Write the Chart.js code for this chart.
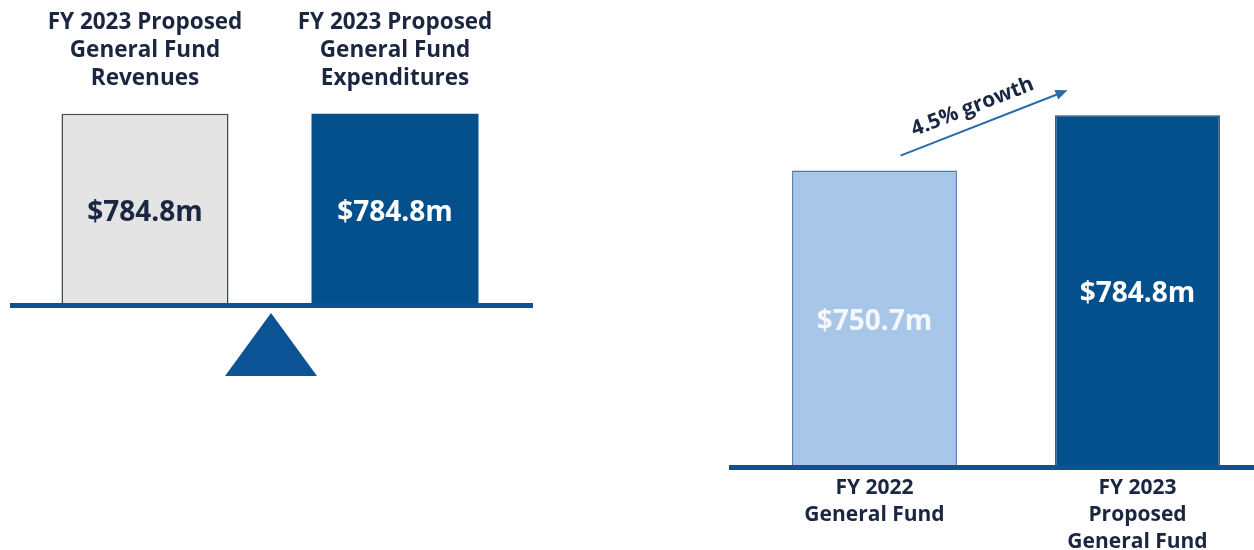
<!DOCTYPE html>
<html>
<head>
<meta charset="utf-8">
<script src="https://cdn.jsdelivr.net/npm/chart.js@4.4.0/dist/chart.umd.min.js"></script>
<style>
html, body { margin: 0; padding: 0; width: 1254px; height: 550px; overflow: hidden; background: #fff; }
#balanceBox { position: absolute; left: 0; top: 0; width: 545px; height: 400px; }
#growthBox { position: absolute; left: 729px; top: 0; width: 545px; height: 571px; }
</style>
</head>
<body>
<div id="balanceBox"><canvas id="balanceChart"></canvas></div>
<div id="growthBox"><canvas id="growthChart"></canvas></div>
<script>
// Data
const balanceLabels = [
    ['FY 2023 Proposed', 'General Fund', 'Revenues'],
    ['FY 2023 Proposed', 'General Fund', 'Expenditures']
];
const balanceValues = [784.8, 784.8];

const growthLabels = [
    ['FY 2022', 'General Fund'],
    ['FY 2023', 'Proposed', 'General Fund']
];
const growthValues = [750.7, 784.8];
const growthText = '4.5% growth';

const FONT = '"Open Sans", "DejaVu Sans", sans-serif';
const NAVY = '#1b2640';
const BLUE = '#03508c';
const LINE_BLUE = '#0b5394';

// Format bedrag
function formatMoney(v) {
    return '$' + v.toFixed(1) + 'm';
}

// Waarde labels in het midden van het zichtbare deel van de balken
function drawValueLabels(chart, values, colors, shift) {
    const ctx = chart.ctx;
    const meta = chart.getDatasetMeta(0);
    const bottom = chart.chartArea.bottom;
    ctx.save();
    ctx.font = 'bold 28px ' + FONT;
    ctx.textAlign = 'center';
    ctx.textBaseline = 'middle';
    meta.data.forEach((bar, i) => {
        const base = Math.min(bar.base, bottom);
        ctx.fillStyle = colors[i];
        ctx.fillText(formatMoney(values[i]), bar.x, (bar.y + base) / 2 + shift);
    });
    ctx.restore();
}

// Wip met driehoek
const seesaw = {
    id: 'seesaw',
    afterDatasetsDraw(chart) {
        const ctx = chart.ctx;
        const area = chart.chartArea;
        const mid = (area.left + area.right) / 2;
        ctx.save();
        ctx.fillStyle = LINE_BLUE;
        ctx.fillRect(10, area.bottom, 523, 5);
        ctx.beginPath();
        ctx.moveTo(mid + 1, area.bottom + 10);
        ctx.lineTo(mid + 47, area.bottom + 73);
        ctx.lineTo(mid - 45, area.bottom + 73);
        ctx.closePath();
        ctx.fill();
        ctx.restore();
        drawValueLabels(chart, balanceValues, [NAVY, '#ffffff'], 5);
    }
};

// Basislijn, labels en groei pijl
const growthDecor = {
    id: 'growthDecor',
    afterDatasetsDraw(chart) {
        const ctx = chart.ctx;
        const area = chart.chartArea;
        const x = chart.scales.x;
        const y = chart.scales.y;
        ctx.save();
        ctx.fillStyle = LINE_BLUE;
        ctx.fillRect(0, area.bottom, chart.width, 5);

        const x0 = x.getPixelForValue(0) + 26;
        const y0 = y.getPixelForValue(growthValues[0]) - 15;
        const x1 = x.getPixelForValue(1) - 70;
        const y1 = y.getPixelForValue(growthValues[1]) - 25;
        const ang = Math.atan2(y1 - y0, x1 - x0);

        ctx.strokeStyle = '#2b6aae';
        ctx.fillStyle = '#2b6aae';
        ctx.lineWidth = 2;
        ctx.beginPath();
        ctx.moveTo(x0, y0);
        ctx.lineTo(x1 - 8 * Math.cos(ang), y1 - 8 * Math.sin(ang));
        ctx.stroke();
        ctx.translate(x1, y1);
        ctx.rotate(ang);
        ctx.beginPath();
        ctx.moveTo(0, 0);
        ctx.lineTo(-12, -5);
        ctx.lineTo(-12, 5);
        ctx.closePath();
        ctx.fill();
        ctx.restore();

        // tekst langs de pijl
        const mx = (x0 + x1) / 2;
        const my = (y0 + y1) / 2;
        ctx.save();
        ctx.translate(mx, my);
        ctx.rotate(ang);
        ctx.font = 'bold 21px ' + FONT;
        ctx.fillStyle = NAVY;
        ctx.textAlign = 'center';
        ctx.textBaseline = 'middle';
        ctx.fillText(growthText, -5, -19);
        ctx.restore();

        drawValueLabels(chart, growthValues, ['#f4f8fc', '#ffffff'], 4);
    }
};

// Balans grafiek
new Chart(document.getElementById('balanceChart'), {
    type: 'bar',
    data: {
        labels: balanceLabels,
        datasets: [{
            data: balanceValues,
            backgroundColor: ['#e4e4e4', BLUE],
            borderColor: ['#3d4a5e', BLUE],
            borderWidth: [1.5, 0],
            borderSkipped: 'bottom',
            barPercentage: 0.668,
            categoryPercentage: 1
        }]
    },
    options: {
        responsive: true,
        maintainAspectRatio: false,
        animation: false,
        layout: { padding: { left: 20, right: 25, top: 6, bottom: 97 } },
        plugins: {
            legend: { display: false },
            tooltip: { enabled: false }
        },
        scales: {
            x: {
                position: 'top',
                grid: { display: false, drawTicks: false },
                border: { display: false },
                ticks: {
                    color: NAVY,
                    padding: 3,
                    maxRotation: 0,
                    font: { family: FONT, size: 22.5, weight: 'bold', lineHeight: 28 / 22.5 }
                }
            },
            y: { display: false, min: 0, max: 858 }
        }
    },
    plugins: [seesaw]
});

// Groei grafiek
new Chart(document.getElementById('growthChart'), {
    type: 'bar',
    data: {
        labels: growthLabels,
        datasets: [{
            data: growthValues,
            backgroundColor: ['#a8c6e8', BLUE],
            borderColor: ['#4f77a3', '#1d4f80'],
            borderWidth: 1.5,
            borderSkipped: 'bottom',
            barPercentage: 0.627,
            categoryPercentage: 1
        }]
    },
    options: {
        responsive: true,
        maintainAspectRatio: false,
        animation: false,
        layout: { padding: { left: 14, right: 5, top: 0, bottom: 5 } },
        plugins: {
            legend: { display: false },
            tooltip: { enabled: false }
        },
        scales: {
            x: {
                grid: { display: false, drawTicks: false },
                border: { display: false },
                ticks: {
                    color: NAVY,
                    padding: 10,
                    maxRotation: 0,
                    font: { family: FONT, size: 21, weight: 'bold', lineHeight: 27 / 21 }
                }
            },
            y: { display: false, min: 569, max: 856 }
        }
    },
    plugins: [growthDecor]
});
</script>
</body>
</html>
